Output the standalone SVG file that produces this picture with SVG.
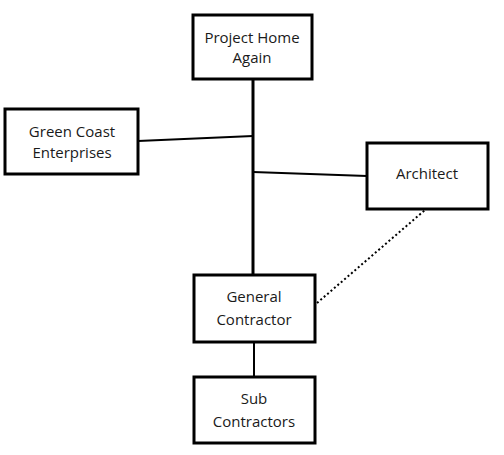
<svg xmlns="http://www.w3.org/2000/svg" width="504" height="455" viewBox="0 0 504 455">
<style>
.box{fill:#fff;stroke:#000;stroke-width:3}
.lbl{font-family:"Open Sans","Liberation Sans",sans-serif;font-size:15px;fill:#1a1a1a;text-anchor:middle}
.ln{stroke:#000;stroke-width:2;fill:none}
</style>
<rect width="504" height="455" fill="#fff"/>
<g id="connectors">
<line class="ln" x1="253" y1="79" x2="253" y2="276" style="stroke-width:3"/>
<line class="ln" x1="138" y1="141" x2="253" y2="136"/>
<line class="ln" x1="253" y1="172" x2="367" y2="176"/>
<line class="ln" x1="254" y1="342" x2="254" y2="377"/>
<line class="ln" x1="317" y1="303" x2="425" y2="210" stroke-dasharray="2 2.5"/>
</g>
<g id="project-home">
<rect class="box" x="193" y="15" width="119" height="64"/>
<text class="lbl" x="252" y="43">Project Home</text>
<text class="lbl" x="252" y="63">Again</text>
</g>
<g id="green-coast">
<rect class="box" x="5" y="109" width="133" height="65"/>
<text class="lbl" x="72" y="137">Green Coast</text>
<text class="lbl" x="72" y="158">Enterprises</text>
</g>
<g id="architect">
<rect class="box" x="367" y="143" width="121" height="66"/>
<text class="lbl" x="427" y="179">Architect</text>
</g>
<g id="general-contractor">
<rect class="box" x="194" y="275" width="121" height="67"/>
<text class="lbl" x="254" y="302">General</text>
<text class="lbl" x="254" y="325">Contractor</text>
</g>
<g id="sub-contractors">
<rect class="box" x="194" y="377" width="121" height="66"/>
<text class="lbl" x="254" y="404">Sub</text>
<text class="lbl" x="254" y="427">Contractors</text>
</g>
</svg>
